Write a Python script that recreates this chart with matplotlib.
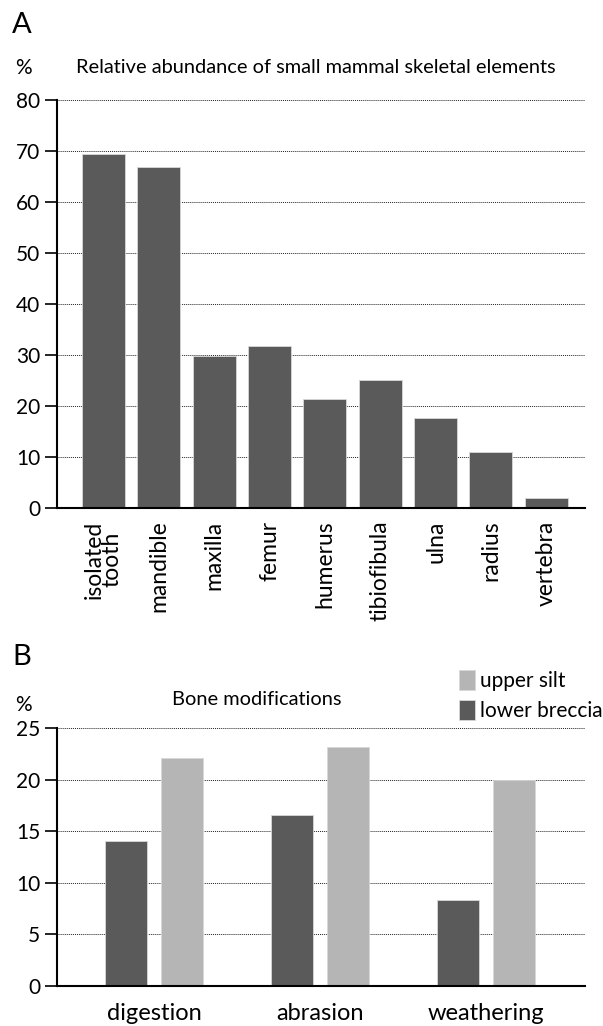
import matplotlib
matplotlib.use("Agg")
import matplotlib.pyplot as plt
import numpy as np

plt.rcParams['font.family'] = ['Lato', 'DejaVu Sans']

# Panel A: relative abundance of skeletal elements (%)
elements = ["isolated\ntooth", "mandible", "maxilla", "femur", "humerus",
            "tibiofibula", "ulna", "radius", "vertebra"]
abundance = [69.3, 66.7, 29.8, 31.7, 21.3, 25.1, 17.6, 11.0, 1.9]
a_yticks = [0, 10, 20, 30, 40, 50, 60, 70, 80]

# Panel B: bone modifications (%)
modifications = ["digestion", "abrasion", "weathering"]
lower_breccia = [14.1, 16.6, 8.3]
upper_silt = [22.1, 23.2, 20.0]
b_yticks = [0, 5, 10, 15, 20, 25]

DARK = "#5a5a5a"
LIGHT = "#b5b5b5"

fig = plt.figure(figsize=(6.03, 10.26), dpi=100)


def style_axes(ax, yticks):
    ax.set_yticks(yticks)
    ax.set_ylim(yticks[0], yticks[-1])
    ax.yaxis.grid(True, linestyle=(0, (1, 1)), color="#222222", linewidth=0.7)
    ax.set_axisbelow(True)
    for s in ("top", "right"):
        ax.spines[s].set_visible(False)
    ax.spines["left"].set_linewidth(1.5)
    ax.spines["bottom"].set_linewidth(1.5)
    ax.tick_params(axis="y", direction="out", length=9, width=1.2,
                   labelsize=15, pad=3)
    ax.tick_params(axis="x", length=0)


# ---- Panel A ----
axA = fig.add_axes([0.0945, 0.5049, 0.8756, 0.3981])
xA = np.arange(len(elements))
axA.bar(xA, abundance, width=0.78, color=DARK, edgecolor="#d8d8d8",
        linewidth=0.6, zorder=2)
axA.set_xlim(-0.84, len(elements) - 1 + 0.70)
style_axes(axA, a_yticks)
axA.set_xticks(xA)
axA.set_xticklabels(elements, rotation=90, fontsize=16.5, va="top",
                    linespacing=0.8)
axA.tick_params(axis="x", pad=9)

fig.text(0.020, 0.988, "A", fontsize=21, va="top", ha="left")
fig.text(0.025, 0.934, "%", fontsize=15, va="center", ha="left")
fig.text(0.523, 0.934, "Relative abundance of small mammal skeletal elements",
         fontsize=14.4, va="center", ha="center")

# ---- Panel B ----
axB = fig.add_axes([0.0945, 0.0390, 0.8756, 0.2514])
xB = np.arange(len(modifications))
w = 0.253
off = 0.167
axB.bar(xB - off, lower_breccia, width=w, color=DARK, edgecolor="#d8d8d8",
        linewidth=0.6, zorder=2, label="lower breccia")
axB.bar(xB + off, upper_silt, width=w, color=LIGHT, edgecolor="#d8d8d8",
        linewidth=0.6, zorder=2, label="upper silt")
axB.set_xlim(-0.585, len(modifications) - 1 + 0.595)
style_axes(axB, b_yticks)
axB.set_xticks(xB)
axB.set_xticklabels(modifications, fontsize=17)
axB.tick_params(axis="x", pad=12)

fig.text(0.020, 0.360, "B", fontsize=21, va="center", ha="left")
fig.text(0.025, 0.313, "%", fontsize=15, va="center", ha="left")
fig.text(0.425, 0.318, "Bone modifications", fontsize=14.4,
         va="center", ha="center")

handles, labels = axB.get_legend_handles_labels()
fig.legend(handles[::-1], labels[::-1], loc="center left",
           bbox_to_anchor=(0.748, 0.322), frameon=False, fontsize=15,
           handlelength=0.75, handleheight=1.1, handletextpad=0.25,
           labelspacing=0.45, borderaxespad=0)

fig.savefig("out.png", dpi=100, facecolor="white")
